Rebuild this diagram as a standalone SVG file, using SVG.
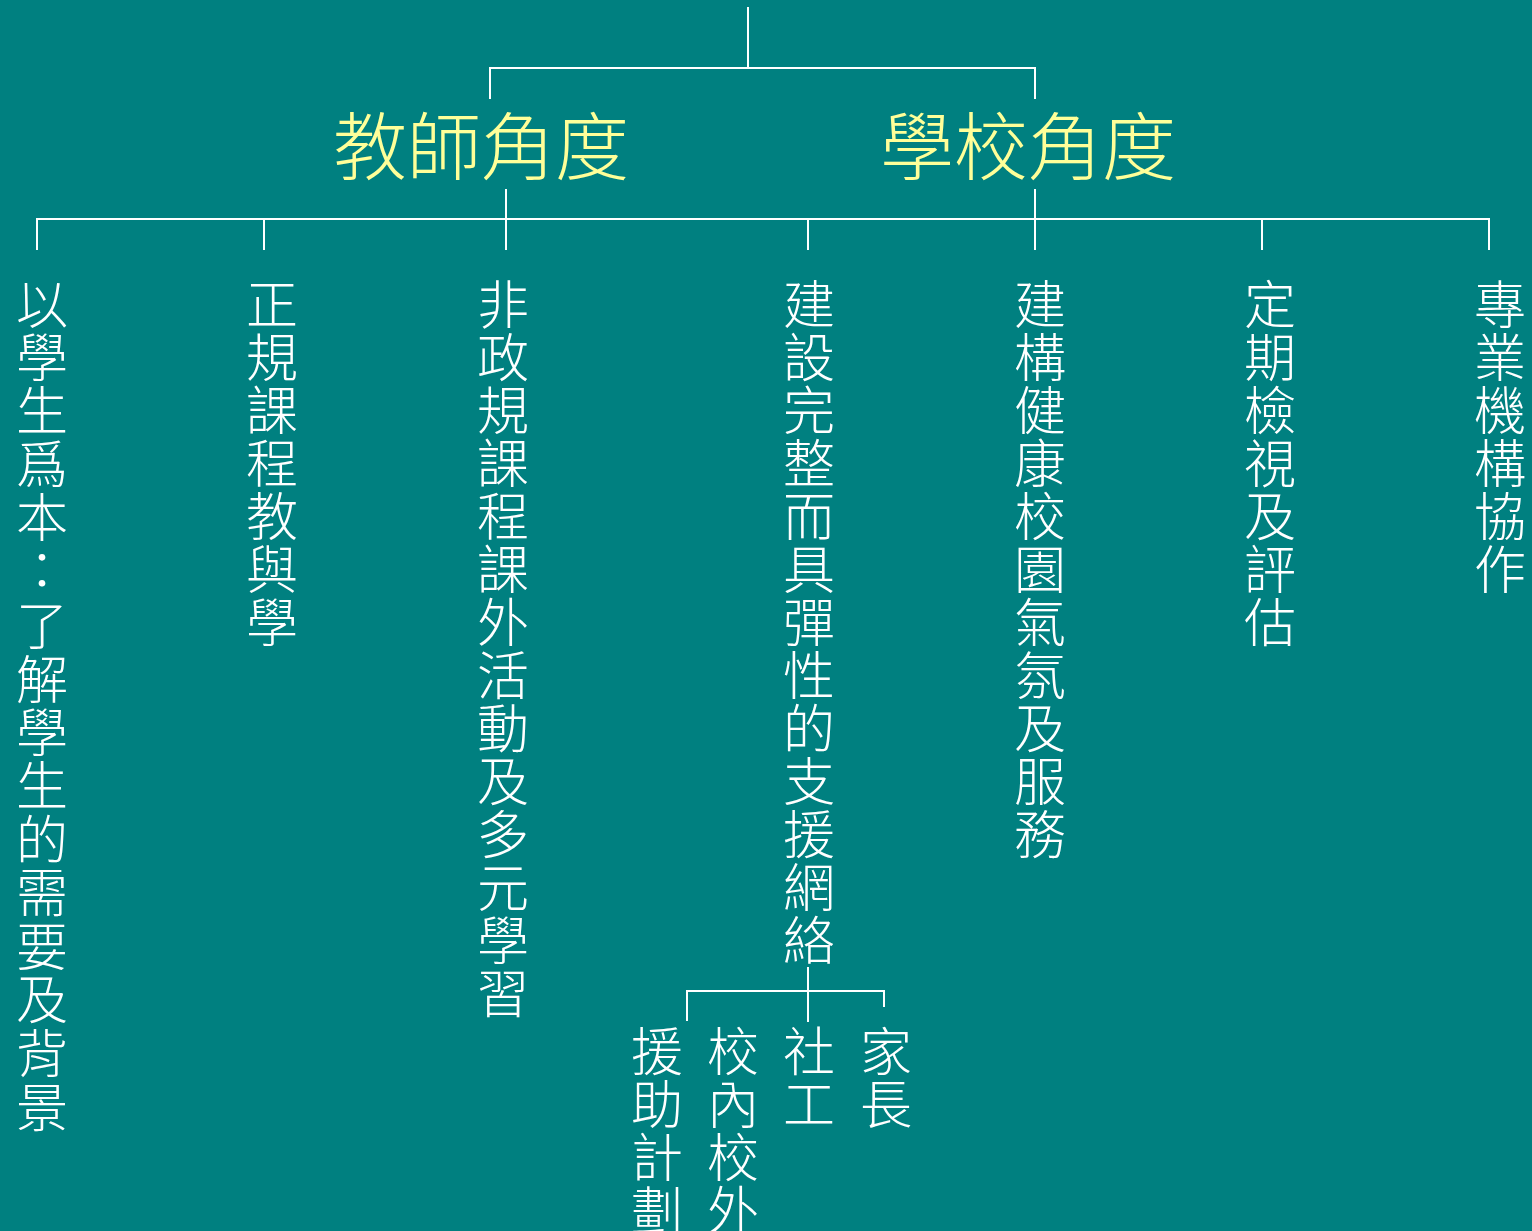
<svg xmlns="http://www.w3.org/2000/svg" width="1532" height="1231" viewBox="0 0 1532 1231">
<style>
.bg{fill:#008080}
.ln{stroke:#ffffff;stroke-width:2;fill:none}
.hd{font-family:"Noto Sans CJK TC","Noto Sans CJK SC",sans-serif;font-size:74px;fill:#ffff99;font-weight:300;text-anchor:middle}
.vt{font-family:"Noto Sans CJK TC","Noto Sans CJK SC",sans-serif;font-size:52px;fill:#ffffff;font-weight:300;text-anchor:middle}
</style>
<rect class="bg" x="0" y="0" width="1532" height="1231"/>
<g id="connectors">
<path class="ln" d="M748 7V68M490 99V68H1035V99"/>
<path class="ln" d="M506 189V219M1035 189V219M37 250V219H1489V250M264 219V250M506 219V250M808 219V250M1035 219V250M1262 219V250"/>
<path class="ln" d="M808 967V1022M687 1021V991H884V1007"/>
</g>
<g id="teacher"><text class="hd" x="481" y="174">教師角度</text></g>
<g id="school"><text class="hd" x="1028" y="174">學校角度</text></g>
<g id="c1"><text class="vt"><tspan x="42" y="324">以</tspan><tspan x="42" y="377">學</tspan><tspan x="42" y="430">生</tspan><tspan x="42" y="484">爲</tspan><tspan x="42" y="537">本</tspan><tspan x="42" y="590">：</tspan><tspan x="42" y="645">了</tspan><tspan x="42" y="699">解</tspan><tspan x="42" y="752">學</tspan><tspan x="42" y="805">生</tspan><tspan x="42" y="859">的</tspan><tspan x="42" y="912">需</tspan><tspan x="42" y="966">要</tspan><tspan x="42" y="1019">及</tspan><tspan x="42" y="1073">背</tspan><tspan x="42" y="1127">景</tspan></text></g>
<g id="c2"><text class="vt"><tspan x="272" y="324">正</tspan><tspan x="272" y="377">規</tspan><tspan x="272" y="430">課</tspan><tspan x="272" y="483">程</tspan><tspan x="272" y="536">教</tspan><tspan x="272" y="589">與</tspan><tspan x="272" y="642">學</tspan></text></g>
<g id="c3"><text class="vt"><tspan x="503" y="324">非</tspan><tspan x="503" y="377">政</tspan><tspan x="503" y="430">規</tspan><tspan x="503" y="483">課</tspan><tspan x="503" y="536">程</tspan><tspan x="503" y="589">課</tspan><tspan x="503" y="642">外</tspan><tspan x="503" y="695">活</tspan><tspan x="503" y="748">動</tspan><tspan x="503" y="801">及</tspan><tspan x="503" y="854">多</tspan><tspan x="503" y="907">元</tspan><tspan x="503" y="960">學</tspan><tspan x="503" y="1013">習</tspan></text></g>
<g id="c4"><text class="vt"><tspan x="809" y="324">建</tspan><tspan x="809" y="377">設</tspan><tspan x="809" y="430">完</tspan><tspan x="809" y="483">整</tspan><tspan x="809" y="536">而</tspan><tspan x="809" y="589">具</tspan><tspan x="809" y="642">彈</tspan><tspan x="809" y="695">性</tspan><tspan x="809" y="748">的</tspan><tspan x="809" y="801">支</tspan><tspan x="809" y="854">援</tspan><tspan x="809" y="907">網</tspan><tspan x="809" y="960">絡</tspan></text></g>
<g id="c5"><text class="vt"><tspan x="1040" y="324">建</tspan><tspan x="1040" y="377">構</tspan><tspan x="1040" y="430">健</tspan><tspan x="1040" y="483">康</tspan><tspan x="1040" y="536">校</tspan><tspan x="1040" y="589">園</tspan><tspan x="1040" y="642">氣</tspan><tspan x="1040" y="695">氛</tspan><tspan x="1040" y="748">及</tspan><tspan x="1040" y="801">服</tspan><tspan x="1040" y="854">務</tspan></text></g>
<g id="c6"><text class="vt"><tspan x="1270" y="324">定</tspan><tspan x="1270" y="377">期</tspan><tspan x="1270" y="430">檢</tspan><tspan x="1270" y="483">視</tspan><tspan x="1270" y="536">及</tspan><tspan x="1270" y="589">評</tspan><tspan x="1270" y="642">估</tspan></text></g>
<g id="c7"><text class="vt"><tspan x="1500" y="324">專</tspan><tspan x="1500" y="377">業</tspan><tspan x="1500" y="430">機</tspan><tspan x="1500" y="483">構</tspan><tspan x="1500" y="536">協</tspan><tspan x="1500" y="589">作</tspan></text></g>
<g id="s1"><text class="vt"><tspan x="657" y="1071">援</tspan><tspan x="657" y="1124">助</tspan><tspan x="657" y="1177">計</tspan><tspan x="657" y="1230">劃</tspan></text></g>
<g id="s2"><text class="vt"><tspan x="733" y="1071">校</tspan><tspan x="733" y="1124">內</tspan><tspan x="733" y="1177">校</tspan><tspan x="733" y="1230">外</tspan></text></g>
<g id="s3"><text class="vt"><tspan x="809" y="1071">社</tspan><tspan x="809" y="1124">工</tspan></text></g>
<g id="s4"><text class="vt"><tspan x="886" y="1071">家</tspan><tspan x="886" y="1124">長</tspan></text></g>
</svg>
